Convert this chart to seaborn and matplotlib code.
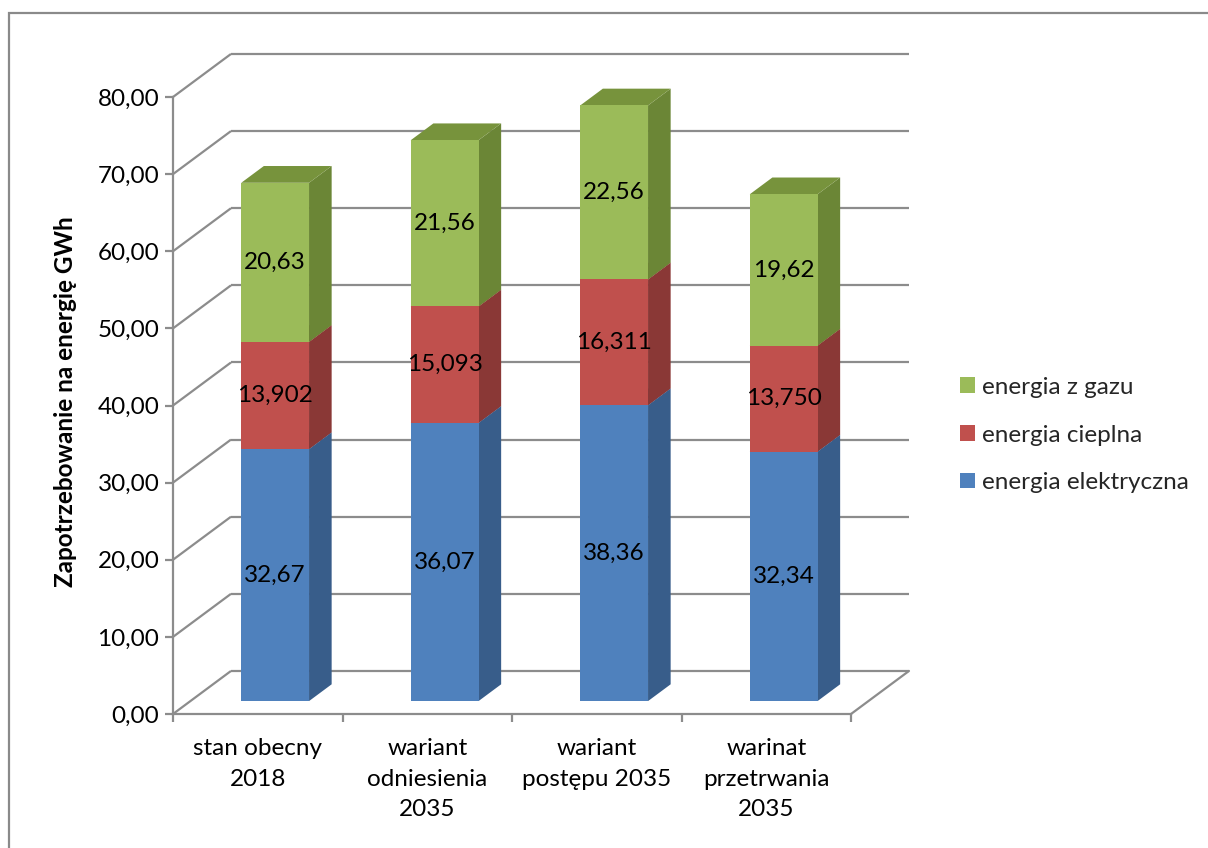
import numpy as np
import matplotlib
matplotlib.use("Agg")
import matplotlib.pyplot as plt
from matplotlib.patches import Polygon, Rectangle, Patch
from matplotlib.transforms import Affine2D
import seaborn as sns

# --- data -------------------------------------------------------------
categories = [
    "stan obecny\n2018",
    "wariant\nodniesienia\n2035",
    "wariant\npostępu 2035",
    "warinat\nprzetrwania\n2035",
]
series_names = ["energia elektryczna", "energia cieplna", "energia z gazu"]
energia_elektryczna = [32.67, 36.07, 38.36, 32.34]
energia_cieplna = [13.902, 15.093, 16.311, 13.750]
energia_z_gazu = [20.63, 21.56, 22.56, 19.62]
label_decimals = [2, 3, 2]
y_ticks = [0, 10, 20, 30, 40, 50, 60, 70, 80]
y_label = "Zapotrzebowanie na energię GWh"

# --- style --------------------------------------------------------------
front_colors = ["#4F81BD", "#C0504D", "#9BBB59"]
side_colors = ["#385D8A", "#8A3836", "#6B8636"]
top_colors = ["#42699A", "#9A403D", "#77933C"]
grid_color = "#8C8C8C"
grid_lw = 1.6
font_size = 17.5

# oblique depth of the 3-D box (category units, value units)
DX, DY = 0.342, 5.58
FRONT, BACK = 0.30, 0.69
BAR_W = 0.40

sns.set_theme(style="white")
plt.rcParams["font.family"] = ["Lato", "DejaVu Sans"]

W, H = 1208, 848
fig = plt.figure(figsize=(W / 100, H / 100), dpi=100)
fig.patch.set_facecolor("white")
ax = fig.add_axes([173 / W, 1 - 714 / H, 678 / W, 617 / H])
ax.set_facecolor("none")

# outer chart frame (right and bottom edges run off the canvas)
fig.patches.append(Rectangle((9 / W, -0.2), 1.2, 1.2 - 13 / H,
                             transform=fig.transFigure, fill=False,
                             edgecolor="#8A8A8A", lw=1.6, zorder=0))

# --- stacked bars -----------------------------------------------------
shift = Affine2D().translate(FRONT * DX, FRONT * DY) + ax.transData
dd = BACK - FRONT
bottoms = np.zeros(len(categories))
for k, vals in enumerate([energia_elektryczna, energia_cieplna, energia_z_gazu]):
    n0 = len(ax.patches)
    sns.barplot(x=categories, y=vals, bottom=bottoms, order=categories,
                color=front_colors[k], saturation=1, width=BAR_W,
                errorbar=None, linewidth=0, edgecolor="none", ax=ax)
    new_bars = ax.patches[n0:]
    for p in new_bars:
        x0, y0 = p.get_x(), p.get_y()
        w, h = p.get_width(), p.get_height()
        z = 5 + k
        side = Polygon([(x0 + w, y0), (x0 + w + dd * DX, y0 + dd * DY),
                        (x0 + w + dd * DX, y0 + h + dd * DY), (x0 + w, y0 + h)],
                       closed=True, facecolor=side_colors[k], lw=0,
                       transform=shift, zorder=z, clip_on=False)
        top = Polygon([(x0, y0 + h), (x0 + w, y0 + h),
                       (x0 + w + dd * DX, y0 + h + dd * DY), (x0 + dd * DX, y0 + h + dd * DY)],
                      closed=True, facecolor=top_colors[k], lw=0,
                      transform=shift, zorder=z, clip_on=False)
        ax.add_patch(side)
        ax.add_patch(top)
        p.set_transform(shift)
        p.set_zorder(z + 0.5)
        p.set_clip_on(False)
    for i, v in enumerate(vals):
        txt = f"{v:.{label_decimals[k]}f}".replace(".", ",")
        ax.text(i, bottoms[i] + v / 2, txt, transform=shift,
                ha="center", va="center", fontsize=font_size,
                color="black", zorder=20)
    bottoms = bottoms + np.array(vals)

n = len(categories)
ax.set_xlim(-0.5, n - 0.5)
ax.set_ylim(y_ticks[0], y_ticks[-1])

# --- walls and floor ---------------------------------------------------
x_left, x_right = -0.5, n - 0.5
for v in y_ticks:
    ax.plot([x_left, x_left + DX], [v, v + DY], color=grid_color, lw=grid_lw,
            zorder=1, clip_on=False, solid_capstyle="butt")
    ax.plot([x_left + DX, x_right + DX], [v + DY, v + DY], color=grid_color,
            lw=grid_lw, zorder=1, clip_on=False, solid_capstyle="butt")
ax.plot([x_right, x_right + DX], [0, DY], color=grid_color, lw=grid_lw,
        zorder=1, clip_on=False)

# --- axes ---------------------------------------------------------------
for s in ["top", "right"]:
    ax.spines[s].set_visible(False)
for s in ["left", "bottom"]:
    ax.spines[s].set_color(grid_color)
    ax.spines[s].set_linewidth(grid_lw)
    ax.spines[s].set_zorder(2)

ax.set_yticks(y_ticks)
ax.set_yticklabels([f"{t:.2f}".replace(".", ",") for t in y_ticks])
ax.tick_params(axis="y", which="major", left=True, direction="out", length=5.8,
               width=grid_lw, color=grid_color, pad=4, labelsize=font_size,
               labelcolor="black")

ax.set_xticks(range(n))
ax.set_xticklabels(categories, linespacing=1.55)
ax.set_xticks(np.arange(-0.5, n, 1.0), minor=True)
ax.tick_params(axis="x", which="major", bottom=True, length=0, pad=17.5,
               labelsize=font_size, labelcolor="black")
ax.tick_params(axis="x", which="minor", bottom=True, direction="out",
               length=5.8, width=grid_lw, color=grid_color)
ax.set_xlabel("")
ax.set_ylabel("")

fig.text(66 / W, 1 - 402 / H, y_label, rotation=90, ha="center", va="center",
         fontsize=font_size, fontweight="bold", color="black")

# --- legend -------------------------------------------------------------
handles = [Patch(facecolor=front_colors[k], edgecolor="none") for k in (2, 1, 0)]
labels = [series_names[k] for k in (2, 1, 0)]
fig.legend(handles, labels, loc="center left",
           bbox_to_anchor=(960 / W, 1 - 435 / H), frameon=False,
           fontsize=font_size, handlelength=0.6, handleheight=0.6,
           handletextpad=0.3, labelspacing=1.1, borderpad=0, borderaxespad=0)

fig.savefig("out.png", dpi=100, facecolor="white")
